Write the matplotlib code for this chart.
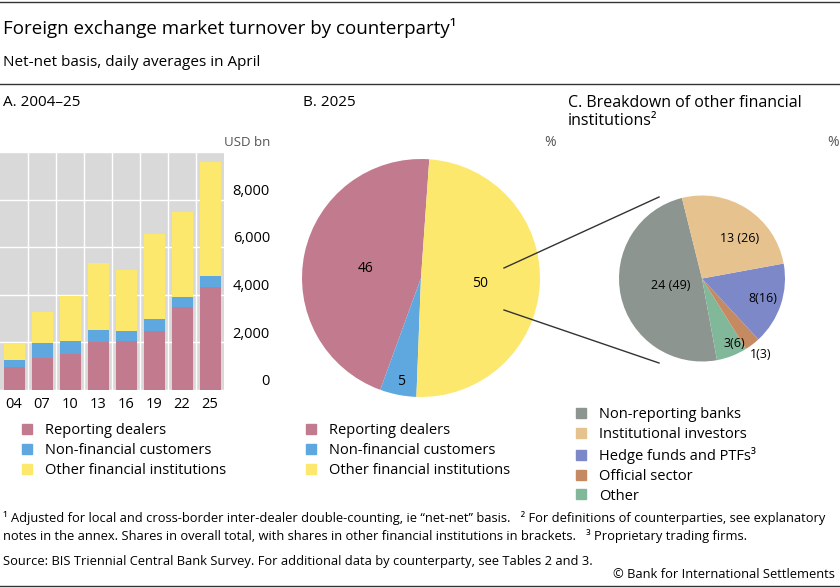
import matplotlib.pyplot as plt
from matplotlib.lines import Line2D
import numpy as np

plt.rcParams['font.family'] = ['Open Sans', 'DejaVu Sans']

# Panel A data (USD bn)
years = ['04', '07', '10', '13', '16', '19', '22', '25']
reporting_dealers = [980, 1360, 1510, 2030, 2070, 2490, 3470, 4340]
non_financial = [280, 600, 550, 490, 400, 480, 450, 450]
other_financial = [660, 1330, 1900, 2830, 2570, 3580, 3540, 4800]

# Panel B data (% of 2025 total)
b_labels = ['Reporting dealers', 'Non-financial customers', 'Other financial institutions']
b_shares = [46, 5, 50]

# Panel C data: share in overall total, share in other financial institutions
c_labels = ['Non-reporting banks', 'Institutional investors', 'Hedge funds and PTFs³',
            'Official sector', 'Other']
c_total = [24, 13, 8, 1, 3]
c_ofi = [49, 26, 16, 3, 6]

col_rd = '#c27b8e'
col_nfc = '#5fa8df'
col_ofi = '#fde86e'
c_colors = ['#8c958f', '#e5c28e', '#7d88c9', '#c58a62', '#80b899']

W, H = 840, 588
fig = plt.figure(figsize=(W / 100, H / 100), dpi=100)


def box(x0, y0, x1, y1):
    return [x0 / W, 1 - y1 / H, (x1 - x0) / W, (y1 - y0) / H]


def ftext(x, y, s, **kw):
    fig.text(x / W, 1 - y / H, s, **kw)


def hline(y, lw=1.0):
    fig.add_artist(Line2D([0, 1], [1 - y / H] * 2, transform=fig.transFigure,
                          color='#333333', lw=lw))


# header
hline(1.5)
ftext(3, 28, 'Foreign exchange market turnover by counterparty¹', fontsize=13.5, va='center')
ftext(3, 62, 'Net-net basis, daily averages in April', fontsize=11, va='center')
hline(84)
ftext(3, 103, 'A. 2004–25', fontsize=11, va='center')
ftext(303, 103, 'B. 2025', fontsize=11, va='center')
ftext(568, 103, 'C. Breakdown of other financial', fontsize=11.5, va='center')
ftext(568, 121, 'institutions²', fontsize=11.5, va='center')

# Panel A: stacked bars
ax = fig.add_axes(box(0, 152, 224, 390))
x = np.arange(len(years))
rd = np.array(reporting_dealers)
nfc = np.array(non_financial)
ofi = np.array(other_financial)
ax.bar(x, rd, width=0.75, color=col_rd, zorder=3)
ax.bar(x, nfc, width=0.75, bottom=rd, color=col_nfc, zorder=3)
ax.bar(x, ofi, width=0.75, bottom=rd + nfc, color=col_ofi, zorder=3)
ax.set_facecolor('#d9d9d9')
ax.set_xlim(-0.5, 7.5)
ax.set_ylim(0, 10000)
for yv in range(0, 10001, 2000):
    ax.axhline(yv, color='white', lw=1, zorder=1)
for xv in np.arange(0.5, 7.5, 1):
    ax.axvline(xv, color='white', lw=1, zorder=1)
for s in ax.spines.values():
    s.set_visible(False)
ax.set_xticks(x)
ax.set_xticklabels(years, fontsize=10.5)
ax.set_yticks([])
ax.tick_params(axis='x', length=0, pad=5)
for yv in range(0, 8001, 2000):
    ax.text(1.205, yv + 350, f'{yv:,}', transform=ax.get_yaxis_transform(),
            ha='right', va='center', fontsize=10.5)
ftext(270, 143, 'USD bn', fontsize=9.5, ha='right', va='center', color='#555555')

leg_kw = dict(loc='upper left', frameon=False, fontsize=10.5, handlelength=0.8,
              handletextpad=0.8, labelspacing=0.33, borderpad=0)
leg_a = [Line2D([], [], ls='', marker='s', ms=7, color=c) for c in (col_rd, col_nfc, col_ofi)]
fig.legend(leg_a, b_labels, bbox_to_anchor=(14 / W, 1 - 416 / H), **leg_kw)

# Panel B: pie
axb = fig.add_axes(box(302, 159, 540, 397))
wedges_b, _ = axb.pie(b_shares, colors=[col_rd, col_nfc, col_ofi], startangle=86,
                      counterclock=True, radius=1)
axb.set_xlim(-1, 1)
axb.set_ylim(-1, 1)
for w, v, r in zip(wedges_b, b_shares, [0.48, 0.87, 0.5]):
    ang = np.deg2rad((w.theta1 + w.theta2) / 2)
    axb.text(r * np.cos(ang), r * np.sin(ang) - 0.02, str(v), ha='center', va='center', fontsize=10)
ftext(550, 143, '%', fontsize=10, ha='center', va='center', color='#555555')

fig.legend(leg_a, b_labels, bbox_to_anchor=(298 / W, 1 - 416 / H), **leg_kw)

# Panel C: pie, drawn counterclockwise in the picture's order
order = [0, 4, 3, 2, 1]
axc = fig.add_axes(box(619, 195.5, 785, 361.5))
wedges_c, _ = axc.pie([c_ofi[i] for i in order], colors=[c_colors[i] for i in order],
                      startangle=104, counterclock=True, radius=1)
axc.set_xlim(-1, 1)
axc.set_ylim(-1, 1)
# (radius fraction, angle shift) per label
label_pos = {0: (0.38, 0), 1: (0.66, -11), 2: (0.77, 0), 3: (1.16, 0), 4: (0.87, 5)}
for w, i in zip(wedges_c, order):
    r, shift = label_pos[i]
    ang = np.deg2rad((w.theta1 + w.theta2) / 2 + shift)
    sep = ' ' if i in (0, 1) else ''
    axc.text(r * np.cos(ang), r * np.sin(ang), f'{c_total[i]}{sep}({c_ofi[i]})',
             ha='center', va='center', fontsize=9)
ftext(833, 143, '%', fontsize=10, ha='center', va='center', color='#555555')

leg_c = [Line2D([], [], ls='', marker='s', ms=7, color=c) for c in c_colors]
fig.legend(leg_c, c_labels, bbox_to_anchor=(568 / W, 1 - 400 / H), **leg_kw)

# connector lines between panel B and C
for (xa, ya), (xb, yb) in [((504, 268), (659, 197)), ((504, 310), (659, 363))]:
    fig.add_artist(Line2D([xa / W, xb / W], [1 - ya / H, 1 - yb / H],
                          transform=fig.transFigure, color='#333333', lw=1))

# footnotes
foot = dict(fontsize=9.3, va='center')
ftext(3, 518, '¹ Adjusted for local and cross-border inter-dealer double-counting, ie “net-net” basis.   '
      '² For definitions of counterparties, see explanatory', **foot)
ftext(3, 536, 'notes in the annex. Shares in overall total, with shares in other financial institutions in brackets.   '
      '³ Proprietary trading firms.', **foot)
ftext(3, 562, 'Source: BIS Triennial Central Bank Survey. For additional data by counterparty, see Tables 2 and 3.', **foot)
ftext(835, 574, '© Bank for International Settlements', ha='right', **foot)
hline(586)

fig.savefig('out.png', dpi=100)
